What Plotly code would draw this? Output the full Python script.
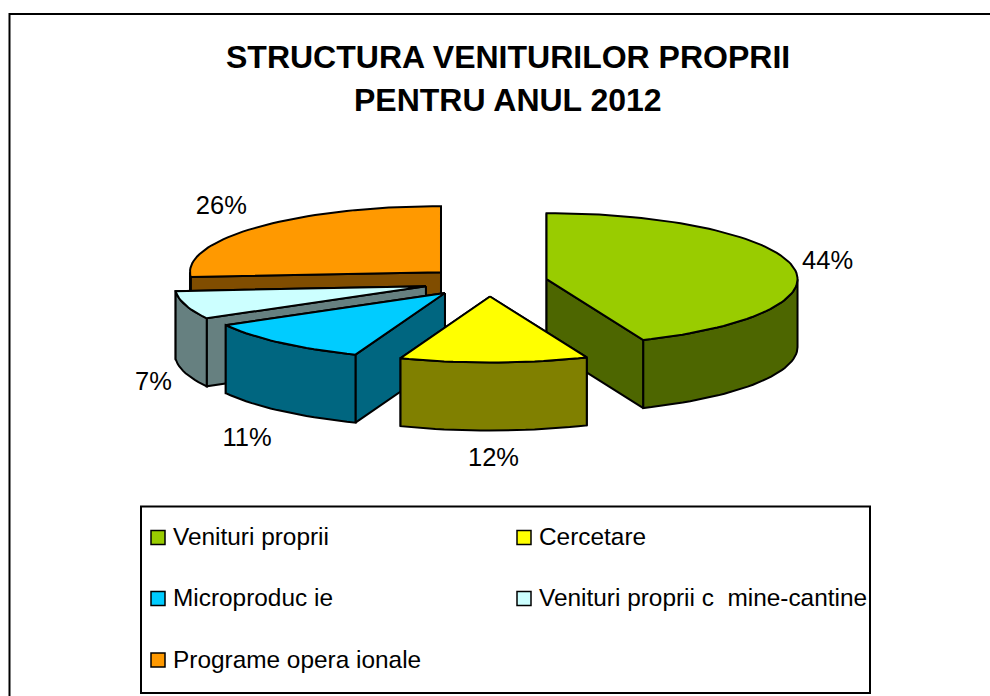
import math
import plotly.graph_objects as go

categories = ["Venituri proprii", "Cercetare", "Microproduc ie",
              "Venituri proprii c\u00a0 mine-cantine", "Programe opera ionale"]
shares = [43.7, 12.1, 11.1, 6.9, 26.2]
share_labels = ["44%", "12%", "11%", "7%", "26%"]
top_colors = ["#99CC00", "#FFFF00", "#00CCFF", "#CCFFFF", "#FF9900"]
side_colors = ["#4D6600", "#808000", "#006680", "#668080", "#804D00"]
title_lines = ["STRUCTURA VENITURILOR PROPRII", "PENTRU ANUL 2012"]

# projection of the tilted, exploded pie (pixel scale of the page)
CX, CY, RX, RY, DEPTH, EXPLODE_X, EXPLODE_Y = 486, 282, 251, 66, 68, 0.25, 0.22
SLICE_SHIFT_X = [-1, 3, 0, 0, 1]
LABEL_NUDGE = [(-2, 2), (-1, -1), (-9, 6), (4, 2), (-8, 1)]


def pt(apex, deg, r=1.0):
    a = math.radians(deg)
    return apex[0] + r * RX * math.sin(a), apex[1] - r * RY * math.cos(a)


def arc(apex, a0, a1):
    n = max(2, int(abs(a1 - a0) / 2))
    return [pt(apex, a0 + (a1 - a0) * i / n) for i in range(n + 1)]


def poly(fig, pts, color):
    xs = [p[0] for p in pts] + [pts[0][0]]
    ys = [p[1] for p in pts] + [pts[0][1]]
    fig.add_trace(go.Scatter(x=xs, y=ys, mode="lines", fill="toself", fillcolor=color,
                             line=dict(color="#000000", width=2), hoverinfo="skip",
                             showlegend=False))


def drop(pts):
    return [(x, y + DEPTH) for x, y in pts]


fig = go.Figure()

# slices, start angles accumulated clockwise from 12 o'clock
total = sum(shares)
slices = []
cum = 0
for i, s in enumerate(shares):
    a0 = cum / total * 360
    cum += s
    a1 = cum / total * 360
    mid = (a0 + a1) / 2
    m = math.radians(mid)
    apex = (CX + SLICE_SHIFT_X[i] + EXPLODE_X * RX * math.sin(m), CY - EXPLODE_Y * RY * math.cos(m))
    slices.append((i, a0, a1, mid, apex))

# painter's order: back slices first
for i, a0, a1, mid, apex in [slices[k] for k in (4, 3, 0, 2, 1)]:
    faces = []
    for ang in (a0, a1):
        edge = pt(apex, ang)
        faces.append(((apex[1] + edge[1]) / 2, [apex, edge, (edge[0], edge[1] + DEPTH), (apex[0], apex[1] + DEPTH)]))
    for _, f in sorted(faces, key=lambda t: t[0]):
        poly(fig, f, side_colors[i])
    lo, hi = max(a0, 90), min(a1, 270)
    if hi > lo:
        upper = arc(apex, lo, hi)
        poly(fig, upper + drop(upper)[::-1], side_colors[i])
    poly(fig, [apex] + arc(apex, a0, a1), top_colors[i])

# percentage labels placed around each slice
lx, ly = [], []
for i, a0, a1, mid, apex in slices:
    m = math.radians(mid)
    lx.append(apex[0] + 1.15 * RX * math.sin(m) + LABEL_NUDGE[i][0])
    ly.append(apex[1] - 1.46 * RY * math.cos(m) + (DEPTH if math.cos(m) < 0 else 0) + LABEL_NUDGE[i][1])
fig.add_trace(go.Scatter(x=lx, y=ly, mode="text", text=share_labels, textposition="middle center",
                         textfont=dict(family="Liberation Sans", size=25.5, color="#000000"),
                         hoverinfo="skip", showlegend=False))

# legend keys and names
key_x = [158, 524, 158, 524, 158]
key_y = [537.5, 537.5, 598.5, 598.5, 660]
fig.add_trace(go.Scatter(x=key_x, y=key_y, mode="markers",
                         marker=dict(symbol="square", size=14, color=top_colors,
                                     line=dict(color="#000000", width=1.5)),
                         hoverinfo="skip", showlegend=False))
fig.add_trace(go.Scatter(x=[k + 15 for k in key_x], y=[k + 1.5 for k in key_y], mode="text", text=categories,
                         textposition="middle right",
                         textfont=dict(family="Liberation Sans", size=24.4, color="#000000"),
                         hoverinfo="skip", showlegend=False))

fig.update_layout(
    width=990, height=696, margin=dict(l=0, r=0, t=0, b=0),
    paper_bgcolor="#FFFFFF", plot_bgcolor="#FFFFFF", showlegend=False,
    xaxis=dict(range=[0, 990], visible=False, domain=[0, 1], fixedrange=True),
    yaxis=dict(range=[696, 0], visible=False, domain=[0, 1], fixedrange=True),
    shapes=[
        dict(type="rect", x0=9.5, y0=14, x1=1010, y1=720, line=dict(color="#000000", width=2), layer="below"),
        dict(type="rect", x0=141, y0=506.5, x1=870, y1=693, line=dict(color="#000000", width=2), layer="below"),
    ],
    annotations=[
        dict(x=508, y=57, text=title_lines[0], showarrow=False, xref="x", yref="y",
             font=dict(family="Liberation Sans", size=32, color="#000000", weight="bold")),
        dict(x=508, y=100, text=title_lines[1], showarrow=False, xref="x", yref="y",
             font=dict(family="Liberation Sans", size=32, color="#000000", weight="bold")),
    ],
)

fig.write_html("out.html", config={"displayModeBar": False},
               post_script="document.body.style.margin='0';document.body.style.overflow='hidden';")
